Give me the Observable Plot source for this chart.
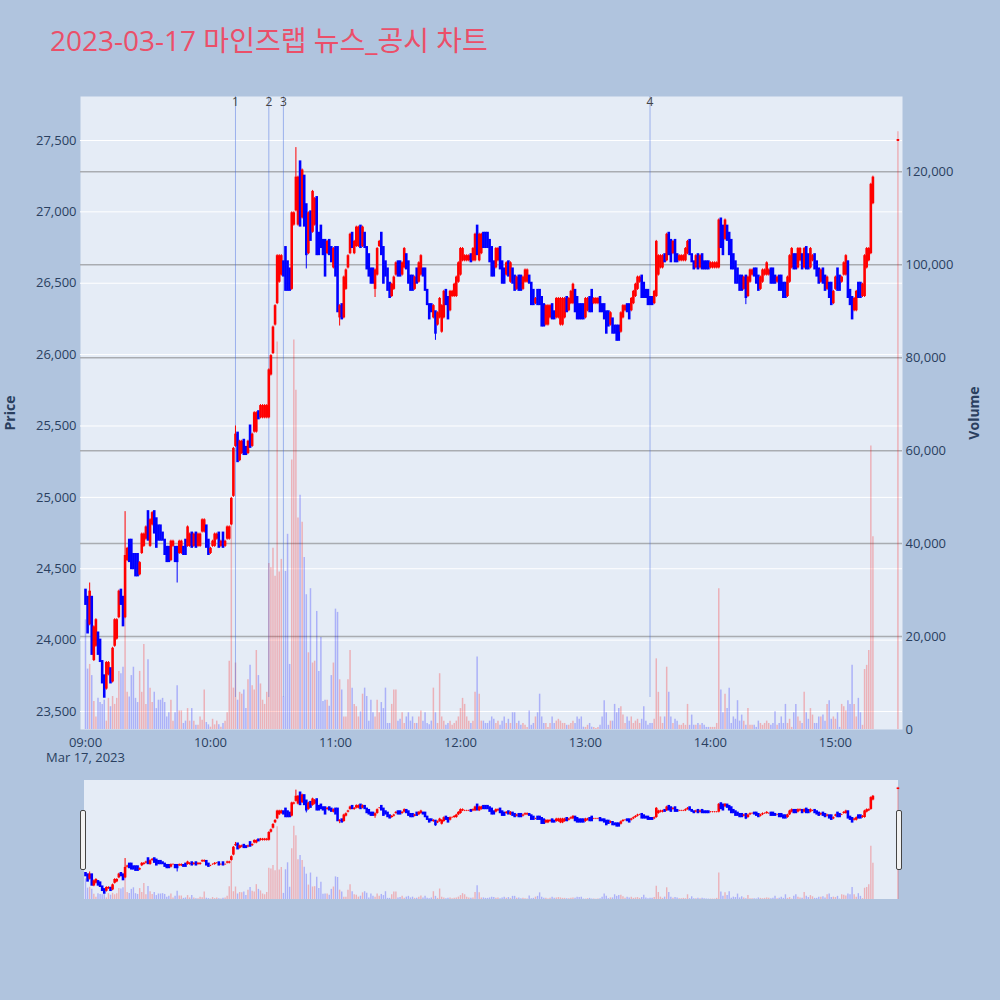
<!DOCTYPE html>
<html><head><meta charset="utf-8">
<script src="https://cdn.jsdelivr.net/npm/d3@7"></script>
<script src="https://cdn.jsdelivr.net/npm/@observablehq/plot@0.6"></script>
<style>
html,body{margin:0;padding:0;background:#B0C4DE;}
#root{position:relative;width:1000px;height:1000px;background:#B0C4DE;overflow:hidden;font-family:"Open Sans","Noto Sans CJK KR",sans-serif;}
#root svg{position:absolute;left:0;}
.title{position:absolute;left:50px;top:21px;line-height:38px;font-size:28px;color:#EB4F69;white-space:nowrap;font-family:"Open Sans","Noto Sans CJK KR",sans-serif;}
.ytitle{position:absolute;font-size:14px;font-weight:bold;color:#2a3f5f;transform:translate(-50%,-50%) rotate(-90deg);white-space:nowrap;}
.sliderbg{position:absolute;left:84px;top:780px;width:814px;height:119px;background:#E5ECF6;}
.handle{position:absolute;top:810px;width:4px;height:58px;background:#f2f2f2;border:1px solid #444;border-radius:2px;}
</style></head>
<body><div id="root"></div>
<script>
// ---- data (1-minute candles from 09:00, index = minute) ----
const opens = [
24350,24300,24100,24300,23850,23950,24050,24000,23850,23750,
23650,23750,23800,23700,23950,24000,24150,24350,24300,24150,
24550,24700,24700,24600,24600,24600,24450,24600,24650,24700,
24900,24650,24800,24900,24850,24800,24800,24750,24700,24650,
24650,24550,24650,24650,24650,24600,24600,24650,24700,24650,
24650,24750,24650,24750,24650,24650,24750,24750,24800,24700,
24600,24650,24650,24700,24750,24650,24750,24650,24700,24700,
24800,25000,25350,25450,25250,25300,25400,25350,25300,25500,
25350,25450,25450,25600,25550,25550,25550,25550,25550,25850,
26000,26200,26350,26500,26550,26650,26750,26650,26600,26450,
26900,27000,26900,27350,26950,27250,27050,26700,27000,26850,
26900,27100,26850,26900,26800,26800,26700,26800,26750,26600,
26750,26750,26250,26350,26250,26450,26600,26700,26850,26700,
26750,26750,26900,26750,26850,26750,26700,26600,26600,26450,
26550,26750,26850,26750,26650,26600,26500,26400,26450,26550,
26650,26650,26550,26600,26700,26650,26550,26550,26450,26600,
26500,26550,26600,26600,26450,26350,26350,26250,26300,26200,
26250,26150,26250,26450,26400,26300,26400,26400,26400,26500,
26550,26650,26650,26650,26650,26700,26650,26650,26900,26650,
26700,26850,26850,26850,26800,26750,26650,26600,26650,26750,
26650,26600,26550,26650,26500,26600,26550,26450,26550,26550,
26450,26500,26500,26550,26500,26450,26350,26450,26450,26400,
26350,26200,26200,26250,26350,26300,26250,26250,26200,26200,
26250,26400,26300,26350,26350,26450,26400,26350,26350,26350,
26250,26300,26400,26450,26350,26350,26350,26400,26350,26350,
26300,26300,26200,26250,26200,26200,26200,26150,26250,26300,
26350,26350,26300,26350,26400,26450,26500,26550,26500,26450,
26450,26400,26400,26350,26400,26550,26600,26600,26700,26650,
26850,26800,26700,26800,26700,26650,26650,26650,26650,26700,
26800,26700,26650,26600,26700,26600,26700,26650,26650,26650,
26600,26600,26600,26600,26600,26950,26900,26800,26900,26850,
26800,26700,26650,26600,26550,26550,26450,26550,26400,26500,
26550,26600,26600,26550,26450,26500,26550,26550,26550,26600,
26600,26550,26500,26550,26550,26500,26500,26400,26500,26600,
26700,26700,26600,26650,26700,26600,26750,26700,26600,26650,
26700,26650,26600,26500,26600,26550,26450,26500,26500,26350,
26450,26600,26550,26500,26550,26550,26650,26450,26400,26300,
26300,26500,26500,26400,26400,26600,26650,26700,27050
];
const closes = [
24250,24050,24350,23900,24100,24150,23900,23850,23700,23600,
23850,23850,23700,23950,24150,24150,24350,24250,24100,24600,
24650,24550,24500,24500,24450,24450,24550,24750,24750,24800,
24700,24850,24900,24750,24650,24700,24700,24700,24600,24550,
24550,24700,24700,24550,24550,24700,24700,24600,24600,24800,
24750,24650,24750,24650,24750,24750,24850,24850,24650,24600,
24650,24700,24750,24750,24650,24700,24650,24700,24800,24800,
25000,25350,25450,25250,25400,25400,25300,25300,25400,25350,
25450,25600,25600,25550,25650,25650,25650,25650,25900,26000,
26200,26350,26700,26700,26700,26550,26450,26450,26450,27000,
27000,27250,27250,26900,27300,26900,26700,27000,26800,27150,
27100,26700,26700,26750,26700,26550,26800,26700,26650,26750,
26550,26300,26350,26250,26550,26600,26700,26850,26750,26800,
26900,26900,26750,26900,26750,26600,26550,26500,26500,26600,
26750,26800,26700,26500,26550,26450,26400,26500,26550,26650,
26550,26550,26650,26750,26600,26500,26450,26450,26550,26500,
26650,26700,26550,26450,26350,26250,26300,26350,26150,26300,
26400,26350,26450,26350,26250,26450,26450,26500,26550,26650,
26750,26750,26700,26700,26700,26650,26750,26850,26700,26850,
26850,26750,26750,26750,26650,26550,26550,26750,26750,26600,
26500,26500,26650,26550,26650,26500,26450,26550,26450,26450,
26550,26600,26600,26500,26350,26350,26400,26350,26350,26200,
26200,26350,26350,26350,26250,26250,26400,26400,26400,26400,
26400,26300,26400,26450,26500,26300,26250,26250,26250,26250,
26400,26400,26300,26300,26400,26400,26400,26300,26300,26250,
26150,26200,26300,26150,26150,26100,26100,26300,26350,26350,
26300,26250,26400,26450,26500,26550,26550,26400,26400,26400,
26350,26350,26350,26450,26800,26700,26700,26700,26650,26850,
26700,26650,26800,26650,26650,26700,26700,26700,26750,26800,
26700,26650,26600,26700,26600,26700,26600,26600,26600,26600,
26650,26650,26650,26650,26950,26750,26700,26950,26800,26700,
26600,26600,26500,26500,26450,26450,26550,26400,26550,26600,
26600,26550,26500,26450,26550,26600,26600,26650,26600,26500,
26500,26500,26550,26450,26450,26400,26400,26550,26700,26750,
26600,26600,26750,26750,26600,26750,26600,26600,26750,26700,
26600,26550,26500,26600,26500,26450,26550,26400,26350,26450,
26550,26450,26450,26550,26650,26700,26400,26350,26250,26400,
26450,26400,26400,26500,26700,26750,26750,27200,27250
];
const volumeThousands = [
23.6,13,14,11.6,6,2.7,6.7,5.8,5.4,6.3,
1.8,6.7,4.9,7.1,5.4,6.7,12.5,12,13.4,30,
8,7,11.6,13.4,6.7,5.8,12.5,8,18.3,5.4,
15,8.9,5.8,8,4.5,6.3,6.3,6.7,5.8,2.7,
3.6,6.3,1.8,3.6,9.4,4,4,1.3,1.8,4.5,
1.8,4.5,1.8,0.9,0.9,2.7,2,8.5,1.5,1,
0.5,2.2,1,1.8,1,0.5,1.3,1.8,3.6,14.7,
43.7,8.9,14.3,6.3,8,7.6,8.5,4.5,10.7,13.8,
9.4,8.5,17,11.6,9.8,6.3,5.4,8,35.7,34.8,
39,33,83.4,33.9,36.6,7,34,42,14,58,
83.8,73,45.5,50.4,44.6,37,29,16.5,30.3,14.3,
14.7,25.4,12.5,19.8,6,6.3,6.3,5,11.6,14.3,
25.9,25.2,10.7,8.5,2.7,2.7,10.7,17,8.9,5.4,
4.9,2.7,3.8,7.6,8.9,7.1,1.8,6.3,3.6,2.7,
6.3,3.6,5.8,4.5,8.9,1.3,1.3,5.4,8.5,8.5,
1.8,2.2,3.6,1.3,2.7,3.6,1.8,2.7,1.3,1.3,
2.7,4,1.8,3.6,1.3,1,1.8,8.9,3.6,1.3,
12,2.7,1.8,0.9,1.3,1.8,0.9,1.3,1.8,2.7,
4.5,6.7,5.4,2.7,1.8,1.3,1.8,8,15.6,7.6,
1.8,1.8,1.3,1.3,1.8,2.7,2.2,1.3,1.8,0.9,
1.8,2.7,1.3,2.2,1.3,3.6,3.6,1.3,1.8,0.9,
1.3,0.9,0.45,4,0.9,1.3,2.7,3.6,7.6,2.7,
1.3,1.3,0.45,1.3,2.7,1.3,1.8,2.2,1.8,1.3,
1.3,0.9,0.9,1.3,1.8,1.3,2.7,2.2,2.7,0.5,
0.45,0.9,1.3,0.5,0.45,0.2,0.45,0.9,2.7,6.2,
3.6,0.9,1.8,1.8,5.4,3.6,4.5,4.9,3.1,1.3,
2.7,1.8,2.7,1.3,1.8,2.2,1.3,2.2,4.9,1.8,
0.9,1.3,1.3,2.2,15.2,8,2.7,1.3,2.7,13.4,
8,2.7,1.3,2.2,1.8,0.9,0.9,1.3,0.9,5.4,
0.9,3.1,0.9,0.9,1.3,0.9,1.3,0.9,0.45,0.45,
0.45,0.45,0.45,1.3,30.3,8.5,3.6,7.6,4.5,8.9,
1.3,2.7,2.2,6.2,1.8,3.1,1.8,0.9,4.5,0.9,
0.9,0.9,0.45,1.8,1.3,0.9,1.3,1.8,1.3,0.9,
1.3,3.8,0.9,1.3,2.7,1.3,5.4,1.3,2.2,0.45,
3.6,5.4,2.7,1.8,1.3,8,3.6,2.2,4.5,3.1,
1.3,1.3,2.7,2.7,3.1,1.8,5.4,6.2,2.2,2.7,
2.2,3.6,0.45,5.4,4.9,4,6.2,5.4,13.8,5.4,
2.7,6.7,3.6,0.9,12.9,13.8,17,61,41.5
];
// wick extremes beyond the body (minute index, price)
const wickMinutes = [2,19,44,72,101,106,122,139,168,317];
const wickPrices  = [24400,24900,24400,25500,27450,26600,26200,26400,26100,26350];
// closing auction candle
const auctionTime = "15:30";
const auctionOpen = 27500, auctionClose = 27500, auctionVolume = 128600;
// event markers
const eventTimes  = ["10:12","10:28","10:35","13:31"];
const eventLabels = ["1","2","3","4"];
// axis ticks
const tickTimes   = ["09:00","10:00","11:00","12:00","13:00","14:00","15:00"];
const tickLabels  = ["09:00\nMar 17, 2023","10:00","11:00","12:00","13:00","14:00","15:00"];
const priceTicks  = [23500,24000,24500,25000,25500,26000,26500,27000,27500];
const volumeTicks = [0,20000,40000,60000,80000,100000,120000];
const titleText = "2023-03-17 마인즈랩 뉴스_공시 차트";

// ---- build ----
const toMin = s => { const [h,m] = s.split(":").map(Number); return (h-9)*60 + m; };
const RED = "#FF0000", BLUE = "#0000FF";
const candles = opens.map((o,i)=>({m:i, open:o, close:closes[i], vol:volumeThousands[i]*1000}));
candles.push({m:toMin(auctionTime), open:auctionOpen, close:auctionClose, vol:auctionVolume});
candles.forEach(d=>{ d.high=Math.max(d.open,d.close); d.low=Math.min(d.open,d.close); d.col = d.close>=d.open?RED:BLUE; });
wickMinutes.forEach((m,j)=>{ const d=candles[m], p=wickPrices[j]; if(p>d.high) d.high=p; if(p<d.low) d.low=p; });
const events = eventTimes.map((t,i)=>({m:toMin(t), label:eventLabels[i]}));
const tickMin = tickTimes.map(toMin);
const labelMap = new Map(tickMin.map((m,i)=>[m,tickLabels[i]]));

const xDomain = [-2.4, 392.2];
const priceDomain = [23374, 27808];
const volDomain = [0, 136200];
const W = 1000, H = 770;
const M = {marginLeft:80, marginRight:98, marginTop:96, marginBottom:41};
const baseStyle = {background:"transparent", fontFamily:"'Open Sans', sans-serif", fontSize:"13px", color:"#2a3f5f", overflow:"visible"};
const root = document.getElementById("root");

// layer A: background, price grid, axes
const A = Plot.plot({
  width:W, height:H, ...M, style:baseStyle,
  x:{domain:xDomain}, y:{domain:priceDomain},
  marks:[
    Plot.frame({fill:"#E5ECF6", stroke:null}),
    Plot.gridY(priceTicks, {stroke:"#ffffff", strokeOpacity:1, strokeWidth:1}),
    Plot.axisY(priceTicks, {tickSize:0, tickPadding:4, tickFormat:d3.format(","), label:null}),
    Plot.axisX(tickMin, {tickSize:0, tickPadding:6, tickFormat:d=>labelMap.get(d), lineHeight:1.2, label:null})
  ]
});
// layer B: volume
const B = Plot.plot({
  width:W, height:H, ...M, style:baseStyle,
  color:{type:"identity"},
  x:{domain:xDomain, axis:null}, y:{domain:volDomain},
  marks:[
    Plot.gridY(volumeTicks.slice(1), {stroke:"#a9acb1", strokeOpacity:1, strokeWidth:1.5}),
    Plot.ruleX(candles, {x:"m", y1:0, y2:"vol", stroke:"col", strokeOpacity:0.25, strokeWidth:1.5}),
    Plot.axisY(volumeTicks, {anchor:"right", tickSize:0, tickPadding:3, tickFormat:d3.format(","), label:null})
  ]
});
// layer C: events + candles
const C = Plot.plot({
  width:W, height:H, ...M, style:baseStyle,
  color:{type:"identity"},
  x:{domain:xDomain, axis:null}, y:{domain:priceDomain, axis:null},
  marks:[
    Plot.ruleX(events, {x:"m", stroke:"royalblue", strokeOpacity:0.45, strokeWidth:1, insetBottom:32}),
    Plot.text(events, {x:"m", text:"label", frameAnchor:"top", dy:1, fill:"#444", fontSize:12}),
    Plot.ruleX(candles, {x:"m", y1:"low", y2:"high", stroke:"col", strokeWidth:1}),
    Plot.ruleX(candles, {x:"m", y1:"open", y2:"close", stroke:"col", strokeWidth:2.6, insetTop:-1, insetBottom:-1})
  ]
});
[A,B,C].forEach(s=>{ s.style.top="0px"; root.appendChild(s); });

// range slider
const bg = document.createElement("div"); bg.className="sliderbg"; root.appendChild(bg);
const SM = {marginLeft:80, marginRight:98, marginTop:0, marginBottom:0};
const SV = Plot.plot({
  width:W, height:119, ...SM, style:baseStyle, color:{type:"identity"},
  x:{domain:xDomain, axis:null}, y:{domain:volDomain, axis:null},
  marks:[ Plot.ruleX(candles, {x:"m", y1:0, y2:"vol", stroke:"col", strokeOpacity:0.25, strokeWidth:1.4}) ]
});
const SP = Plot.plot({
  width:W, height:119, ...SM, style:baseStyle, color:{type:"identity"},
  x:{domain:xDomain, axis:null}, y:{domain:priceDomain, axis:null},
  marks:[
    Plot.ruleX(candles, {x:"m", y1:"low", y2:"high", stroke:"col", strokeWidth:1}),
    Plot.ruleX(candles, {x:"m", y1:"open", y2:"close", stroke:"col", strokeWidth:2.6, insetTop:-0.8, insetBottom:-0.8})
  ]
});
[SV,SP].forEach(s=>{ s.style.top="780px"; root.appendChild(s); });
[80,896].forEach(x=>{ const h=document.createElement("div"); h.className="handle"; h.style.left=x+"px"; root.appendChild(h); });

// titles
const t = document.createElement("div"); t.className="title"; t.textContent=titleText; root.appendChild(t);
const p = document.createElement("div"); p.className="ytitle"; p.textContent="Price"; p.style.left="9px"; p.style.top="413px"; root.appendChild(p);
const v = document.createElement("div"); v.className="ytitle"; v.textContent="Volume"; v.style.left="973px"; v.style.top="413px"; root.appendChild(v);
</script>
</body></html>
